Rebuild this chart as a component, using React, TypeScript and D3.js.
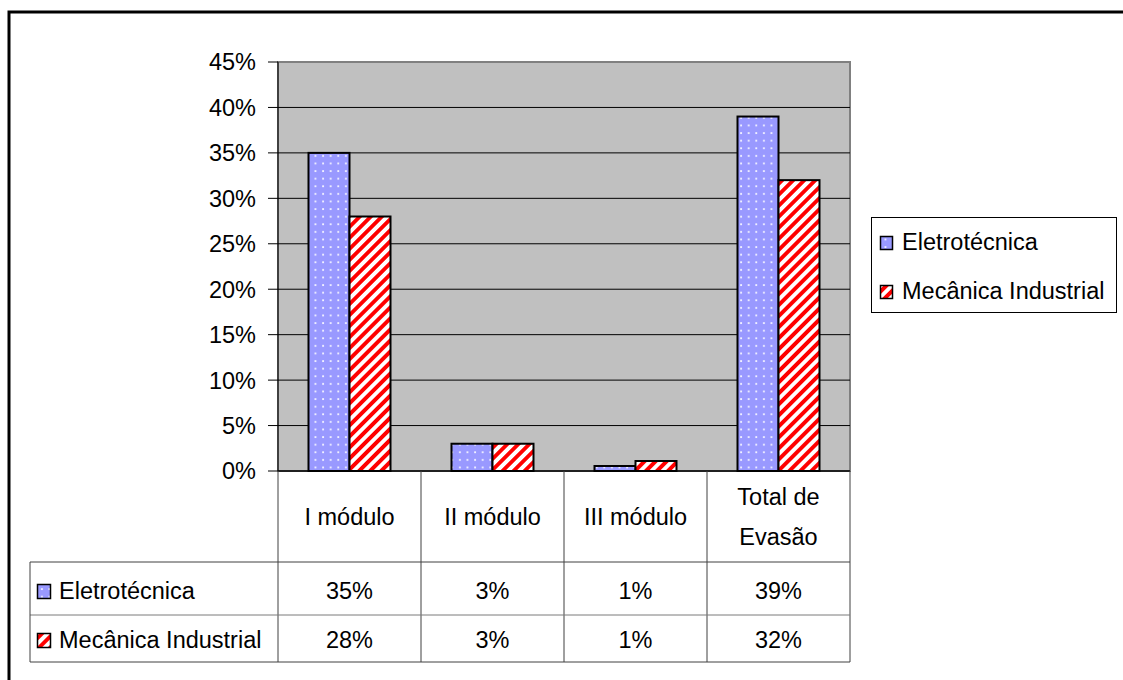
import React from 'react';
import * as d3 from 'd3';

// chart values
const categories = ['I módulo', 'II módulo', 'III módulo', 'Total de Evasão'];
const categoryLines = [['I módulo'], ['II módulo'], ['III módulo'], ['Total de', 'Evasão']];
const seriesNames = ['Eletrotécnica', 'Mecânica Industrial'];
const eletrotecnica = [0.35, 0.03, 0.0055, 0.39];
const mecanica = [0.28, 0.03, 0.011, 0.32];
const yTicks = [0, 0.05, 0.1, 0.15, 0.2, 0.25, 0.3, 0.35, 0.4, 0.45];

const FONT = '"Liberation Sans", Arial, sans-serif';
const FS = 23.5;

const App = () => {
  const plot = { left: 278, right: 850, top: 62, bottom: 471 };
  const tableRows = [562, 615, 662];
  const tableLeft = 30;

  const x = d3.scaleBand<string>().domain(categories).range([plot.left, plot.right]).padding(0);
  const xs = d3.scaleBand<string>().domain(seriesNames).range([0, x.bandwidth()])
    .paddingInner(0).paddingOuter(0.744);
  const y = d3.scaleLinear().domain([0, 0.45]).range([plot.bottom, plot.top]);
  const pct = d3.format('.0%');

  const seriesData = [eletrotecnica, mecanica];
  const fills = ['url(#dots)', 'url(#stripes)'];

  const bars = seriesNames.flatMap((s, si) =>
    categories.map((c, ci) => ({ s, si, c, v: seriesData[si][ci] }))
  );

  return (
    <svg width={1123} height={680} style={{ position: 'absolute', left: 0, top: 0, background: '#fff' }}
      fontFamily={FONT}>
      <defs>
        <pattern id="dots" width={7.6} height={7.6} patternUnits="userSpaceOnUse">
          <rect width={7.6} height={7.6} fill="#9999FF" />
          <rect x={3} y={3} width={1.8} height={1.8} fill="#fff" opacity={0.9} />
        </pattern>
        <pattern id="stripes" width={7.8} height={7.8} patternUnits="userSpaceOnUse" patternTransform="rotate(45)">
          <rect width={7.8} height={7.8} fill="#fff" />
          <rect width={3.9} height={7.8} fill="#FF0000" />
        </pattern>
      </defs>

      {/* outer frame */}
      <rect x={9} y={12} width={1200} height={800} fill="none" stroke="#000" strokeWidth={3} />

      {/* plot area */}
      <rect x={plot.left} y={plot.top} width={plot.right - plot.left} height={plot.bottom - plot.top}
        fill="#C0C0C0" stroke="#808080" strokeWidth={2} />
      {yTicks.filter(t => t > 0 && t < 0.45).map(t => (
        <line key={t} x1={plot.left} x2={plot.right} y1={y(t)} y2={y(t)} stroke="#000" strokeWidth={1} />
      ))}

      {/* bars */}
      {bars.map(d => (
        <rect key={d.s + d.c} x={(x(d.c) as number) + (xs(d.s) as number)} y={y(d.v)}
          width={xs.bandwidth()} height={y(0) - y(d.v)} fill={fills[d.si]}
          stroke="#000" strokeWidth={2} />
      ))}

      {/* y axis */}
      <line x1={plot.left} x2={plot.left} y1={plot.top} y2={plot.bottom} stroke="#000" strokeWidth={1} />
      {yTicks.map(t => (
        <g key={t}>
          <line x1={plot.left - 10} x2={plot.left} y1={y(t)} y2={y(t)} stroke="#000" />
          <text x={256} y={y(t)} dy="0.36em" textAnchor="end" fontSize={FS}>{pct(t)}</text>
        </g>
      ))}
      <line x1={plot.left} x2={plot.right} y1={plot.bottom} y2={plot.bottom} stroke="#000" strokeWidth={1.5} />

      {/* data table */}
      {[plot.left, ...categories.map(c => (x(c) as number) + x.bandwidth())].map((xx, i) => (
        <line key={'v' + i} x1={xx} x2={xx} y1={plot.bottom} y2={tableRows[2]} stroke="#404040" />
      ))}
      {tableRows.map((ty, i) => (
        <line key={'h' + i} x1={tableLeft} x2={plot.right} y1={ty} y2={ty}
          stroke={i === 1 ? '#7a7a7a' : '#404040'} />
      ))}
      <line x1={tableLeft} x2={tableLeft} y1={tableRows[0]} y2={tableRows[2]} stroke="#404040" />

      {categories.map((c, ci) => {
        const lines = categoryLines[ci];
        const cx = (x(c) as number) + x.bandwidth() / 2;
        const mid = (plot.bottom + tableRows[0]) / 2;
        return lines.map((ln, li) => (
          <text key={c + li} x={cx} y={mid + (li - (lines.length - 1) / 2) * 40} dy="0.36em"
            textAnchor="middle" fontSize={FS}>{ln}</text>
        ));
      })}

      {seriesNames.map((s, si) => {
        const base = si === 0 ? 599 : 648;
        return (
          <g key={s}>
            <rect x={37.5} y={base - 14.5} width={13} height={14} fill={fills[si]} stroke="#000" strokeWidth={1.5} />
            <text x={59} y={base} fontSize={FS}>{s}</text>
            {categories.map((c, ci) => (
              <text key={c} x={(x(c) as number) + x.bandwidth() / 2} y={base} textAnchor="middle"
                fontSize={FS}>{pct(seriesData[si][ci])}</text>
            ))}
          </g>
        );
      })}

      {/* legend */}
      <rect x={871.5} y={217.5} width={245} height={95} fill="#fff" stroke="#000" strokeWidth={1} />
      {seriesNames.map((s, si) => {
        const base = si === 0 ? 250 : 299;
        return (
          <g key={'lg' + s}>
            <rect x={880.5} y={base - 13.5} width={12} height={13} fill={fills[si]} stroke="#000" strokeWidth={1.5} />
            <text x={902} y={base} fontSize={FS}>{s}</text>
          </g>
        );
      })}
    </svg>
  );
};

export default App;
